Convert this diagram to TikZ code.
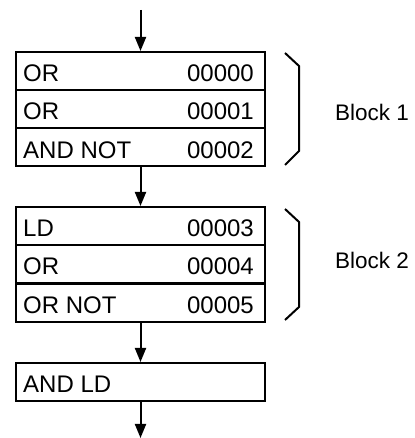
\documentclass[tikz,border=0pt]{standalone}
\usepackage{fontspec}
\setmainfont{Liberation Sans}
\usetikzlibrary{arrows.meta}
\begin{document}
\begin{tikzpicture}[x=1pt,y=1pt,
  rowbox/.style={draw,line width=2pt,minimum width=249pt,minimum height=38pt,inner sep=0pt,anchor=north},
  instr/.style={anchor=base west,inner sep=0pt,font=\fontsize{24}{28}\selectfont},
  addr/.style={anchor=base east,inner sep=0pt,font=\fontsize{24}{28}\selectfont},
  blabel/.style={anchor=west,inner sep=0pt,font=\fontsize{22.5}{26}\selectfont},
  flow/.style={line width=2pt,-{Triangle[length=14pt,width=11pt]}},
  brace/.style={line width=2pt}]
\useasboundingbox (0,0) rectangle (414,438);
% block 1
\node[rowbox] (a1) at (140.5,387) {};
\node[rowbox] (a2) at (140.5,349) {};
\node[rowbox] (a3) at (140.5,311) {};
% block 2
\node[rowbox] (b1) at (140.5,232) {};
\node[rowbox] (b2) at (140.5,194) {};
\node[rowbox] (b3) at (140.5,155) {};
% and ld
\node[rowbox] (c1) at (140.5,76) {};
% texts
\node[instr] (ta1) at (23,356) {OR};
\node[addr] (na1) at (254,356) {00000};
\node[instr] (ta2) at (23,318) {OR};
\node[addr] (na2) at (254,318) {00001};
\node[instr] (ta3) at (23,279) {AND NOT};
\node[addr] (na3) at (254,279) {00002};
\node[instr] (tb1) at (23,201) {LD};
\node[addr] (nb1) at (254,201) {00003};
\node[instr] (tb2) at (23,163) {OR};
\node[addr] (nb2) at (254,163) {00004};
\node[instr] (tb3) at (23,124) {OR NOT};
\node[addr] (nb3) at (254,124) {00005};
\node[instr] (tc1) at (23,45) {AND LD};
% arrows
\coordinate (top) at (140.5,428);
\coordinate (bot) at (140.5,0);
\draw[flow] (top) -- (a1.north);
\draw[flow] (a3.south) -- (b1.north);
\draw[flow] (b3.south) -- (c1.north);
\draw[flow] (c1.south) -- (bot);
% brackets
\draw[brace] (285,385) -- (299,372) -- (299,287) -- (285,273);
\draw[brace] (285,229) -- (299,216) -- (299,131) -- (285,118);
\node[blabel] (l1) at (335,326) {Block 1};
\node[blabel] (l2) at (335,178) {Block 2};
\end{tikzpicture}
\end{document}
